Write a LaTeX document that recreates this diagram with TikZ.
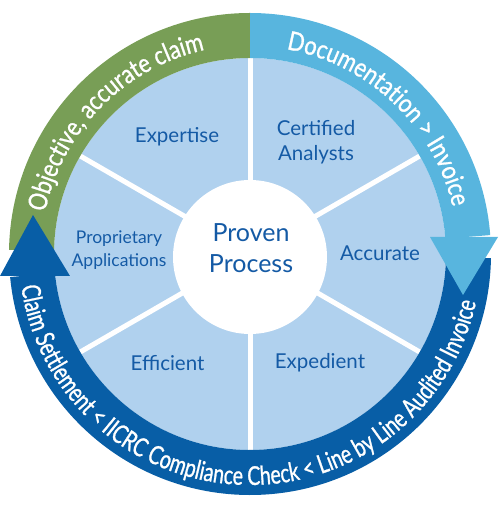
\documentclass[tikz,border=0pt]{standalone}
\usepackage{fontspec}
\setmainfont{Lato}
\newfontfamily\ringfont[FakeStretch=0.84,FakeBold=1]{Lato}
\newfontfamily\ringfontb[FakeStretch=0.75,FakeBold=1]{Lato}
\usetikzlibrary{decorations.text}
\definecolor{ringgreen}{HTML}{789E56}
\definecolor{ringlight}{HTML}{58B5DE}
\definecolor{ringdark}{HTML}{085EA6}
\definecolor{piefill}{HTML}{B0D1EE}
\definecolor{textblue}{HTML}{145AA5}
\tikzset{
  pietext/.style={text=textblue, align=center, inner sep=0pt, font=\fontsize{20.5}{25}\selectfont},
  divider/.style={white, line width=5pt},
  ringtext/.style={decorate, decoration={text along path, text align=center, text color=white}}
}
\begin{document}
\begin{tikzpicture}[x=1pt,y=1pt]
\useasboundingbox (-250,-262) rectangle (250,254);
% pie
\fill[piefill] (0,0) circle[radius=196];
\foreach \a in {30,90,...,330} \draw[divider] (0,0) -- (\a:196);
\fill[white] (0,-3) circle[radius=77];
% green ring
\fill[ringgreen] (90:241) arc[start angle=90, end angle=179, radius=241] -- (179:196) arc[start angle=179, end angle=90, radius=196] -- cycle;
% dark ring
\fill[ringdark] (-1:241) arc[start angle=-1, end angle=-174.5, radius=241] -- (-174.5:196) arc[start angle=-174.5, end angle=-1, radius=196] -- cycle;
% light ring
\fill[ringlight] (90:241) arc[start angle=90, end angle=4.5, radius=241] -- (4.5:196) arc[start angle=4.5, end angle=90, radius=196] -- cycle;
\fill[ringlight] (180,17) -- (248,17) -- (213,-41) -- cycle;
% dark arrowhead
\fill[ringdark] (-250,-22) -- (-180,-22) -- (-217,39) -- cycle;
% ring texts
\path[ringtext, decoration={text={|\fontsize{26}{26}\ringfont|Objective, accurate claim}}] (175:209) arc[start angle=175, end angle=96, radius=209];
\path[ringtext, decoration={text={|\fontsize{26}{26}\ringfont|Documentation > Invoice}}] (85:208) arc[start angle=85, end angle=8, radius=208];
\path[ringtext, decoration={text={|\fontsize{26}{26}\ringfontb|Claim Settlement < IICRC Compliance Check < Line by Line Audited Invoice}}] (178:231) arc[start angle=178, end angle=358, radius=231];
% pie labels
\node[pietext] (expertise) at (-73,117) {Expertise};
\node[pietext] (certified) at (66,112) {Certified\\Analysts};
\node[pietext] (accurate) at (130,1) {Accurate};
\node[pietext] (expedient) at (70,-109) {Expedient};
\node[pietext] (efficient) at (-82.5,-109) {Efficient};
\node[pietext, font=\fontsize{17.5}{23}\selectfont] (proprietary) at (-131,4) {Proprietary\\Applications};
\node[pietext, font=\fontsize{25}{31}\selectfont] (proven) at (1,6) {Proven\\Process};
\end{tikzpicture}
\end{document}
